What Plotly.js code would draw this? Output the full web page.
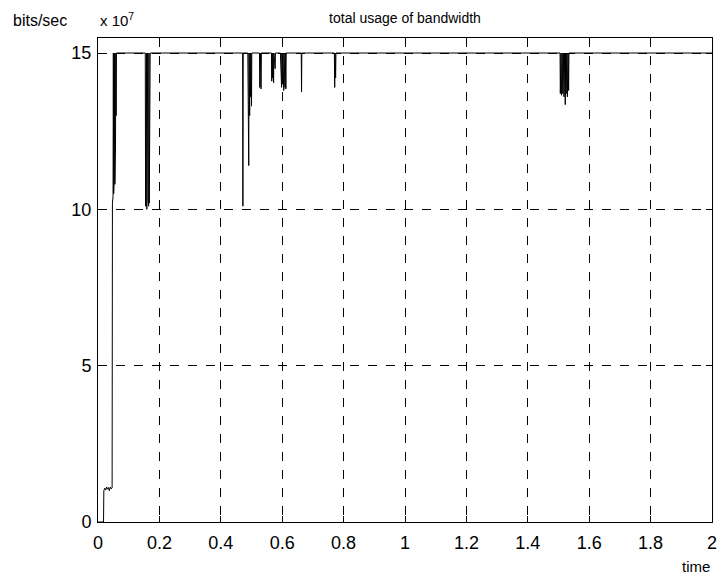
<!DOCTYPE html>
<html>
<head>
<meta charset="utf-8">
<script src="https://cdn.plot.ly/plotly-3.0.1.min.js"></script>
<style>html,body{margin:0;padding:0;background:#fff}#chart{width:721px;height:577px}</style>
</head>
<body>
<div id="chart"></div>
<script>
// time (s) and total bandwidth usage (units of 10^7 bits/sec)
const times = [
  0, 0.018, 0.019, 0.022, 0.025, 0.028, 0.031, 0.034, 0.037, 0.040, 0.043, 0.046, 0.047,
  0.049, 0.050, 0.051, 0.052, 0.053, 0.054, 0.055, 0.056, 0.057, 0.058, 0.059, 0.060,
  0.153, 0.154, 0.155, 0.156, 0.157, 0.158, 0.159, 0.160, 0.161, 0.162, 0.163, 0.164, 0.165, 0.166, 0.167, 0.168, 0.169, 0.170,
  0.471, 0.472, 0.473,
  0.488, 0.489, 0.490, 0.491, 0.492, 0.494, 0.495, 0.497, 0.498, 0.500, 0.501,
  0.526, 0.527, 0.528, 0.529, 0.530, 0.531, 0.532,
  0.565, 0.566, 0.567, 0.569, 0.570, 0.572, 0.573, 0.577, 0.578,
  0.594, 0.595, 0.596, 0.598, 0.599, 0.601, 0.602, 0.605, 0.606, 0.609, 0.610, 0.612, 0.613,
  0.662, 0.663, 0.664,
  0.770, 0.771, 0.772, 0.774, 0.775,
  1.505, 1.506, 1.508, 1.510, 1.512, 1.514, 1.516, 1.518, 1.520, 1.522, 1.523, 1.525, 1.527, 1.529, 1.531, 1.533, 1.534,
  2.0
];
const usage = [
  0, 0, 1.0, 1.08, 1.02, 1.12, 1.05, 1.1, 1.0, 1.12, 1.06, 1.1, 10.2,
  10.4, 15, 10.5, 15, 11.0, 15, 10.8, 15, 12.0, 15, 13.0, 15,
  15, 15, 10.1, 15, 10.2, 15, 10.0, 15, 10.1, 15, 10.3, 15, 10.1, 15, 10.2, 15, 10.5, 15,
  15, 10.1, 15,
  15, 13.4, 15, 11.4, 15, 13.0, 15, 13.6, 15, 13.3, 15,
  15, 13.9, 15, 14.0, 15, 13.85, 15,
  15, 14.1, 15, 14.2, 15, 14.05, 15, 14.5, 15,
  15, 14.3, 15, 13.9, 15, 14.0, 15, 13.8, 15, 13.9, 15, 13.85, 15,
  15, 13.75, 15,
  15, 13.9, 15, 14.2, 15,
  15, 13.7, 15, 13.65, 15, 13.7, 15, 13.6, 15, 13.35, 15, 13.7, 15, 13.6, 15, 13.8, 15,
  15
];
const xTickVals = [0, 0.2, 0.4, 0.6, 0.8, 1, 1.2, 1.4, 1.6, 1.8, 2];
const xTickText = ['0', '0.2', '0.4', '0.6', '0.8', '1', '1.2', '1.4', '1.6', '1.8', '2'];
const yTickVals = [0, 5, 10, 15];
const yTickText = ['0', '5', '10', '15'];

const font = 'Liberation Sans, Arial, sans-serif';
const axisCommon = {
  showline: true, linecolor: '#000', linewidth: 1, mirror: 'ticks',
  ticks: 'inside', ticklen: 6, tickcolor: '#000', tickwidth: 1,
  showgrid: true, gridcolor: '#000', gridwidth: 1, griddash: 'dash',
  zeroline: false, tickmode: 'array',
  tickfont: {family: font, size: 18, color: '#000'}
};

Plotly.newPlot('chart', [{
  x: times, y: usage, type: 'scatter', mode: 'lines',
  line: {color: '#000', width: 1}, hoverinfo: 'skip'
}], {
  width: 721, height: 577,
  margin: {l: 98, r: 9, t: 38, b: 55},
  paper_bgcolor: '#fff', plot_bgcolor: '#fff',
  showlegend: false,
  title: {text: 'total usage of bandwidth', font: {family: font, size: 14, color: '#000'},
          x: 0.5, xref: 'paper', y: 0.968, yanchor: 'middle'},
  xaxis: Object.assign({}, axisCommon, {range: [0, 2], tickvals: xTickVals, ticktext: xTickText, ticklabelstandoff: 4}),
  yaxis: Object.assign({}, axisCommon, {range: [0, 15.48], tickvals: yTickVals, ticktext: yTickText, ticklabelstandoff: 2}),
  annotations: [
    {text: 'bits/sec', xref: 'paper', yref: 'paper', x: -0.142, y: 1.015, xanchor: 'left', yanchor: 'bottom',
     showarrow: false, font: {family: font, size: 16, color: '#000'}},
    {text: 'x 10<sup>7</sup>', xref: 'paper', yref: 'paper', x: 0, y: 1.015, xanchor: 'left', yanchor: 'bottom',
     showarrow: false, font: {family: font, size: 15, color: '#000'}},
    {text: 'time', xref: 'paper', yref: 'paper', x: 1, y: -0.07, xanchor: 'right', yanchor: 'top',
     showarrow: false, font: {family: font, size: 15, color: '#000'}}
  ]
}, {staticPlot: true, displayModeBar: false});
</script>
</body>
</html>
